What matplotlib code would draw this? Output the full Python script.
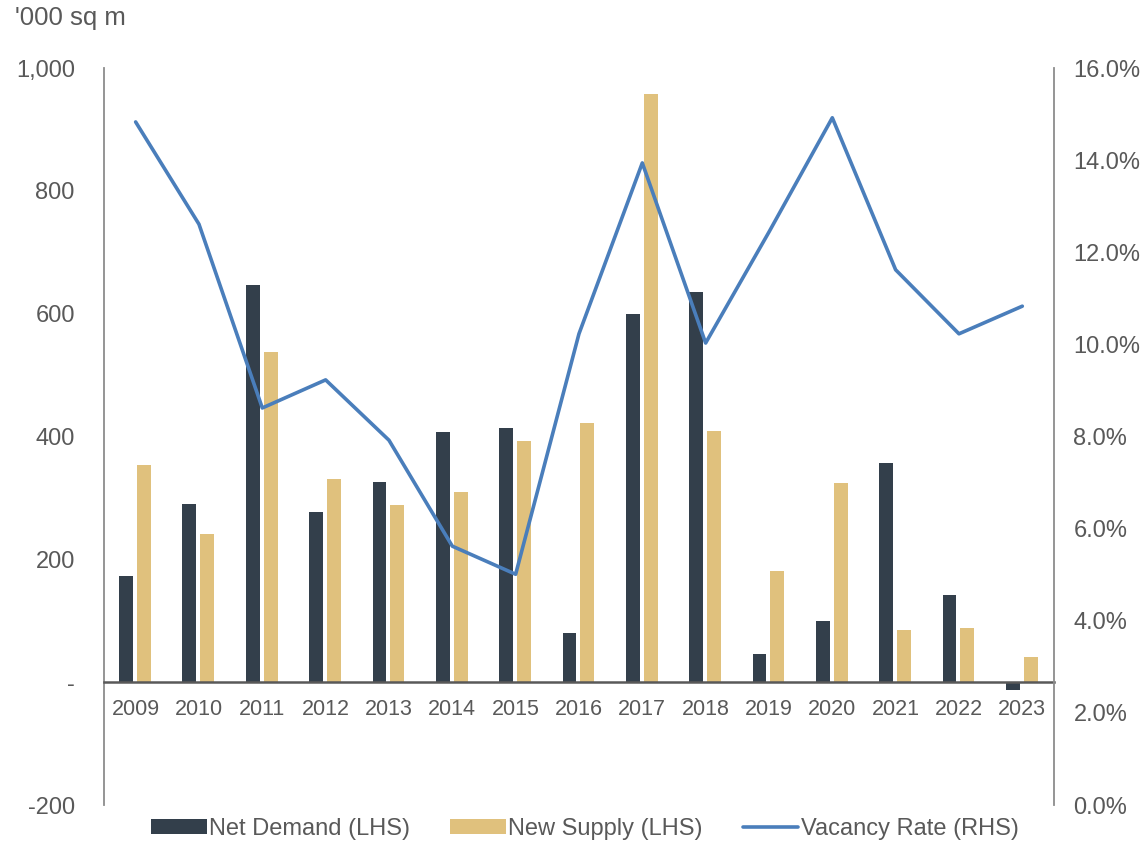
import numpy as np
import matplotlib
matplotlib.use('Agg')
import matplotlib.pyplot as plt
from matplotlib.ticker import FuncFormatter

plt.rcParams['font.family'] = ['Liberation Sans', 'DejaVu Sans']

years = ['2009', '2010', '2011', '2012', '2013', '2014', '2015', '2016',
         '2017', '2018', '2019', '2020', '2021', '2022', '2023']
net_demand = [173, 290, 647, 277, 326, 407, 414, 80, 599, 635, 46, 99, 357, 142, -13]
new_supply = [353, 241, 537, 331, 288, 309, 392, 422, 958, 409, 181, 324, 85, 88, 41]
vacancy = [14.83, 12.61, 8.62, 9.23, 7.92, 5.62, 5.01, 10.23, 13.94, 10.03,
           12.44, 14.92, 11.62, 10.23, 10.83]

grey = '#595959'
spine_grey = '#8C8C8C'

fig = plt.figure(figsize=(11.45, 8.42), dpi=100)
ax = fig.add_axes([0.0908, 0.0439, 0.8297, 0.8753])
ax2 = ax.twinx()

x = np.arange(len(years))
w = 0.22
b1 = ax.bar(x - 0.15, net_demand, w, color='#333F4B', label='Net Demand (LHS)', zorder=2)
b2 = ax.bar(x + 0.13, new_supply, w, color='#E0C17D', label='New Supply (LHS)', zorder=2)
l1, = ax2.plot(x, vacancy, color='#4A7EBB', lw=2.6, label='Vacancy Rate (RHS)',
               solid_capstyle='round')

ax.set_xlim(-0.5, len(years) - 0.5)
ax.set_ylim(-200, 1000)
ax.set_yticks(range(-200, 1001, 200))
ax.yaxis.set_major_formatter(FuncFormatter(lambda v, p: '-' if v == 0 else f'{v:,.0f}'))
ax.set_xticks(x)
ax.set_xticklabels(years)

ax2.set_ylim(0, 16)
ax2.set_yticks(range(0, 17, 2))
ax2.yaxis.set_major_formatter(FuncFormatter(lambda v, p: f'{v:.1f}%'))

ax.spines['top'].set_visible(False)
ax2.spines['top'].set_visible(False)
ax.spines['right'].set_visible(False)
ax2.spines['left'].set_visible(False)
ax2.spines['bottom'].set_visible(False)
ax.spines['left'].set_color(spine_grey)
ax.spines['left'].set_linewidth(1.3)
ax2.spines['right'].set_color(spine_grey)
ax2.spines['right'].set_linewidth(1.3)
ax.spines['bottom'].set_position(('data', 0))
ax.spines['bottom'].set_color(grey)
ax.spines['bottom'].set_linewidth(1.8)
ax.spines['bottom'].set_zorder(3)

ax.tick_params(axis='y', length=0, pad=21, labelsize=17, labelcolor=grey)
ax.tick_params(axis='x', length=0, pad=12, labelsize=15.5, labelcolor=grey)
ax2.tick_params(axis='y', length=0, pad=14, labelsize=17, labelcolor=grey)

fig.text(0.013, 0.979, "'000 sq m", fontsize=18.5, color=grey, ha='left', va='center')

fig.legend([b1, b2, l1], [b1.get_label(), b2.get_label(), l1.get_label()],
           loc='center', bbox_to_anchor=(0.511, 0.016), ncol=3, frameon=False,
           fontsize=17, labelcolor=grey, handlelength=2.35, handletextpad=0.1,
           columnspacing=1.7, handleheight=0.6)

fig.savefig('out.png', dpi=100)
